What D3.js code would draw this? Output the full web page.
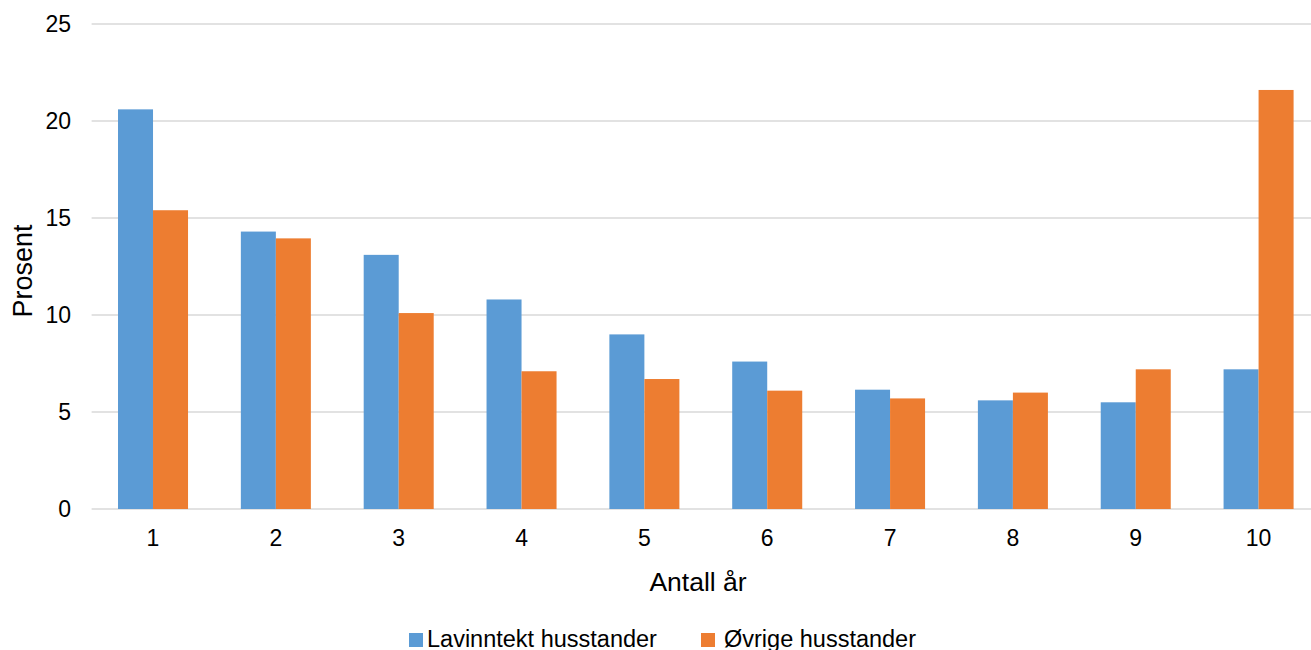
<!DOCTYPE html>
<html><head><meta charset="utf-8">
<script src="https://cdn.jsdelivr.net/npm/d3@7"></script>
<style>body{margin:0;background:#fff;} svg{display:block;font-family:"Liberation Sans",Arial,sans-serif;}</style>
</head><body>
<svg id="c" width="1311" height="650"></svg>
<script>
const categories = ["1","2","3","4","5","6","7","8","9","10"];
const seriesNames = ["Lavinntekt husstander", "Øvrige husstander"];
const lavinntekt = [20.6, 14.3, 13.1, 10.8, 9.0, 7.6, 6.15, 5.6, 5.5, 7.2];
const ovrige = [15.4, 13.95, 10.1, 7.1, 6.7, 6.1, 5.7, 6.0, 7.2, 21.6];
const yTicks = [0, 5, 10, 15, 20, 25];
const colors = ["#5b9bd5", "#ed7d31"];

const svg = d3.select("#c");
const mLeft = 91.6, mRight = 1320, mTop = 24, mBottom = 509;
const x0 = d3.scaleBand().domain(categories).range([mLeft, mRight]).paddingInner(0.43).paddingOuter(0.215);
const x1 = d3.scaleBand().domain([0,1]).range([0, x0.bandwidth()]);
const y = d3.scaleLinear().domain([0, 25]).range([mBottom, mTop]);

// gridlines
svg.append("g").selectAll("line").data(yTicks).join("line")
  .attr("x1", mLeft).attr("x2", mRight)
  .attr("y1", d => y(d)).attr("y2", d => y(d))
  .attr("stroke", "#d9d9d9").attr("stroke-width", 1.5);

// y tick labels
svg.append("g").selectAll("text").data(yTicks).join("text")
  .attr("x", 71).attr("y", d => y(d)).attr("dy", "0.35em")
  .attr("text-anchor", "end").attr("font-size", 23).attr("fill", "#000")
  .text(d => d);

// bars
const data = categories.map((c, i) => ({c, v: [lavinntekt[i], ovrige[i]]}));
const g = svg.append("g").selectAll("g").data(data).join("g")
  .attr("transform", d => `translate(${x0(d.c)},0)`);
g.selectAll("rect").data(d => d.v.map((v, k) => ({v, k}))).join("rect")
  .attr("x", d => x1(d.k)).attr("width", x1.bandwidth())
  .attr("y", d => y(d.v)).attr("height", d => y(0) - y(d.v))
  .attr("fill", d => colors[d.k]);

// x tick labels
svg.append("g").selectAll("text").data(categories).join("text")
  .attr("x", d => x0(d) + x0.bandwidth()/2).attr("y", 546)
  .attr("text-anchor", "middle").attr("font-size", 23).attr("fill", "#000")
  .text(d => d);

// axis titles
svg.append("text").attr("x", 698).attr("y", 591).attr("text-anchor", "middle")
  .attr("font-size", 26.5).text("Antall år");
svg.append("text").attr("transform", "translate(32,271) rotate(-90)")
  .attr("text-anchor", "middle").attr("font-size", 27).text("Prosent");

// legend
const legX = [409, 701];
const lg = svg.append("g").selectAll("g").data(seriesNames).join("g")
  .attr("transform", (d, i) => `translate(${legX[i]},633)`);
lg.append("rect").attr("x", 0).attr("y", 0).attr("width", 14).attr("height", 14)
  .attr("fill", (d, i) => colors[i]);
lg.append("text").attr("x", (d, i) => i === 0 ? 18 : 23).attr("y", 14)
  .attr("font-size", 23.5).text(d => d);
</script>
</body></html>
